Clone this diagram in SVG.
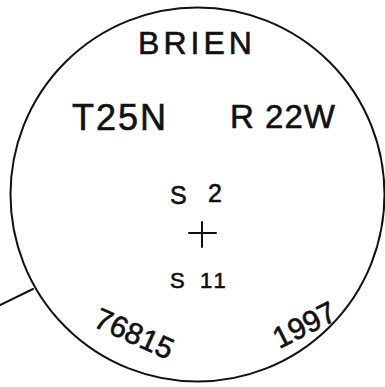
<svg xmlns="http://www.w3.org/2000/svg" width="385" height="387" viewBox="0 0 385 387">
<style>
.t{font-family:"Liberation Sans",Arial,sans-serif;fill:#111;stroke:#111;stroke-width:0.6;}
.ln{fill:none;stroke:#111;stroke-width:2;stroke-linecap:round;}
</style>
<rect width="385" height="387" fill="#fff"/>
<g id="circle"><circle class="ln" cx="197.5" cy="194.5" r="187"/></g>
<g id="connectors"><line class="ln" x1="0" y1="305" x2="33" y2="289"/></g>
<g id="labels">
<text class="t" x="197" y="54" font-size="32" text-anchor="middle" letter-spacing="4">BRIEN</text>
<text class="t" x="120" y="130" font-size="36" text-anchor="middle" letter-spacing="2">T25N</text>
<text class="t" x="283" y="128" font-size="33" text-anchor="middle" letter-spacing="1">R 22W</text>
<text x="170" y="204" class="t" font-size="25">S</text>
<text x="208" y="202" class="t" font-size="25">2</text>
<path class="ln" d="M189 233 H216 M202 222 V247" stroke-width="2.5"/>
<text x="170" y="288" class="t" font-size="22">S</text>
<text x="200" y="288" class="t" font-size="22" letter-spacing="3">11</text>
<text class="t" x="130" y="343" font-size="30" text-anchor="middle" transform="rotate(24 130 343)">76815</text>
<text class="t" x="309" y="334" font-size="30" text-anchor="middle" transform="rotate(-27 309 334)">1997</text>
</g>
</svg>
